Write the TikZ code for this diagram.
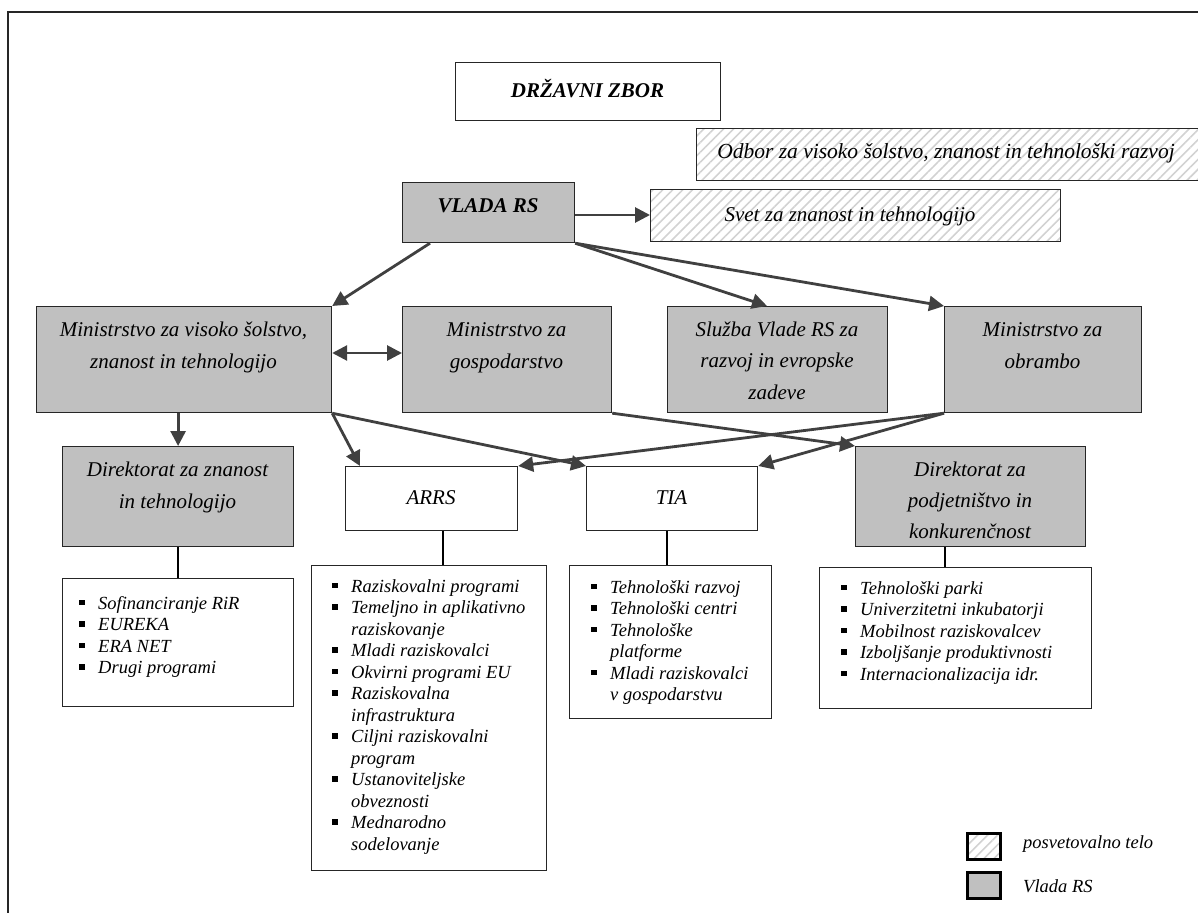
\documentclass[tikz,border=0pt]{standalone}
\usepackage{fontspec}
\setmainfont{Liberation Serif}
\usetikzlibrary{arrows.meta,patterns.meta,calc}
\definecolor{boxgray}{HTML}{C0C0C0}
\definecolor{arrowgray}{HTML}{404040}
\definecolor{hatchgray}{HTML}{D2D2D2}
\newcommand\lbul{\makebox[19pt][l]{\rule[4pt]{5.5pt}{5.5pt}}}
\newcommand\lind{\hspace*{19pt}}
\tikzset{
  boxbase/.style={draw=black!85, line width=1.2pt, inner sep=0pt, anchor=north west},
  gbox/.style={boxbase, fill=boxgray},
  wbox/.style={boxbase, fill=white},
  hbox/.style={boxbase, pattern={Lines[angle=45,distance=7pt,line width=1.6pt]}, pattern color=hatchgray},
  btext/.style={inner sep=0pt, anchor=base, font=\fontsize{21}{32}\selectfont\itshape},
  ltext/.style={inner sep=0pt, anchor=base west, font=\fontsize{18.5}{21.5}\selectfont\itshape},
  arr/.style={draw=arrowgray, line width=2.8pt, -{Triangle[length=15pt,width=15pt]}},
  darr/.style={draw=arrowgray, line width=2.8pt, {Triangle[length=15pt,width=15pt]}-{Triangle[length=15pt,width=15pt]}},
  conn/.style={draw=black, line width=1.5pt},
  legbox/.style={draw=black, line width=2.5pt, inner sep=0pt, anchor=north west, minimum width=33pt, minimum height=26pt},
}
\begin{document}
\begin{tikzpicture}[x=1pt,y=-1pt]
\useasboundingbox (0,0) rectangle (1198,912);
\draw[line width=2.6pt, black!85] (8,12) rectangle (1220,930);

% top level
\node[wbox, minimum width=265pt, minimum height=58pt] (dz) at (455,62) {};
\node[btext, font=\fontsize{21}{32}\selectfont\bfseries\itshape] (dzt) at (587.5,98) {DRŽAVNI ZBOR};
\node[hbox, minimum width=530pt, minimum height=52pt] (odb) at (696,128) {};
\node[btext, font=\fontsize{21.5}{32}\selectfont\itshape] (odbt) at (946,159) {Odbor za visoko šolstvo, znanost in tehnološki razvoj};
\node[gbox, minimum width=172pt, minimum height=60pt] (vlada) at (402,182) {};
\node[btext, font=\fontsize{21}{32}\selectfont\bfseries\itshape] (vladat) at (488,212) {VLADA RS};
\node[hbox, minimum width=410pt, minimum height=52pt] (svet) at (650,189) {};
\node[btext] (svett) at (850,221) {Svet za znanost in tehnologijo};

% ministries
\node[gbox, minimum width=295pt, minimum height=106pt] (mvs) at (36,306) {};
\node[btext] (mvst) at (183.5,336) {\parbox[t]{290pt}{\centering Ministrstvo za visoko šolstvo,\\ znanost in tehnologijo}};
\node[gbox, minimum width=209pt, minimum height=106pt] (gosp) at (402,306) {};
\node[btext] (gospt) at (506.5,336) {\parbox[t]{200pt}{\centering Ministrstvo za\\ gospodarstvo}};
\node[gbox, minimum width=220pt, minimum height=106pt] (sl) at (667,306) {};
\node[btext, font=\fontsize{21}{31.5}\selectfont\itshape] (slt) at (777,336) {\parbox[t]{215pt}{\centering Služba Vlade RS za\\ razvoj in evropske\\ zadeve}};
\node[gbox, minimum width=197pt, minimum height=106pt] (obr) at (944,306) {};
\node[btext] (obrt) at (1042.5,336) {\parbox[t]{190pt}{\centering Ministrstvo za\\ obrambo}};

% agencies
\node[gbox, minimum width=231pt, minimum height=100pt] (dzn) at (62,446) {};
\node[btext] (dznt) at (177.5,476) {\parbox[t]{225pt}{\centering Direktorat za znanost\\ in tehnologijo}};
\node[wbox, minimum width=172pt, minimum height=64pt] (arrs) at (345,466) {};
\node[btext] (arrst) at (431,504) {ARRS};
\node[wbox, minimum width=171pt, minimum height=64pt] (tia) at (586,466) {};
\node[btext] (tiat) at (671.5,504) {TIA};
\node[gbox, minimum width=230pt, minimum height=100pt] (dp) at (855,446) {};
\node[btext, font=\fontsize{21}{31}\selectfont\itshape] (dpt) at (970,476) {\parbox[t]{225pt}{\centering Direktorat za\\ podjetništvo in\\ konkurenčnost}};

% lists
\node[wbox, minimum width=231pt, minimum height=128pt] (l1) at (62,578) {};
\node[ltext] (l1t) at (79,609) {\parbox[t]{210pt}{\raggedright
\lbul Sofinanciranje RiR\\
\lbul EUREKA\\
\lbul ERA NET\\
\lbul Drugi programi}};
\node[wbox, minimum width=235pt, minimum height=305pt] (l2) at (311,565) {};
\node[ltext] (l2t) at (332,592) {\parbox[t]{210pt}{\raggedright
\lbul Raziskovalni programi\\
\lbul Temeljno in aplikativno\\
\lind raziskovanje\\
\lbul Mladi raziskovalci\\
\lbul Okvirni programi EU\\
\lbul Raziskovalna\\
\lind infrastruktura\\
\lbul Ciljni raziskovalni\\
\lind program\\
\lbul Ustanoviteljske\\
\lind obveznosti\\
\lbul Mednarodno\\
\lind sodelovanje}};
\node[wbox, minimum width=202pt, minimum height=153pt] (l3) at (569,565) {};
\node[ltext] (l3t) at (591,593) {\parbox[t]{180pt}{\raggedright
\lbul Tehnološki razvoj\\
\lbul Tehnološki centri\\
\lbul Tehnološke\\
\lind platforme\\
\lbul Mladi raziskovalci\\
\lind v gospodarstvu}};
\node[wbox, minimum width=272pt, minimum height=141pt] (l4) at (819,567) {};
\node[ltext] (l4t) at (841,594) {\parbox[t]{245pt}{\raggedright
\lbul Tehnološki parki\\
\lbul Univerzitetni inkubatorji\\
\lbul Mobilnost raziskovalcev\\
\lbul Izboljšanje produktivnosti\\
\lbul Internacionalizacija idr.}};

% connectors to lists
\draw[conn] (dzn.south) -- (dzn.south |- l1.north);
\coordinate (arrsc) at ($(arrs.south west)+(98,0)$);
\draw[conn] (arrsc) -- (arrsc |- l2.north);
\coordinate (tiac) at ($(tia.south west)+(81,0)$);
\draw[conn] (tiac) -- (tiac |- l3.north);
\coordinate (dpc) at ($(dp.south west)+(90,0)$);
\draw[conn] (dpc) -- (dpc |- l4.north);

% arrows
\draw[arr] ($(vlada.north east)+(0,33)$) -- ($(svet.north west)+(0,26)$);
\draw[arr] ($(vlada.south west)+(28,0)$) -- (mvs.north east);
\draw[arr] (vlada.south east) -- ($(sl.north west)+(100,0)$);
\draw[arr] (vlada.south east) -- (obr.north west);
\draw[darr] ($(mvs.north east)+(0,47)$) -- ($(gosp.north west)+(0,47)$);
\draw[arr] (dzn.north |- mvs.south) -- (dzn.north);
\draw[arr] (mvs.south east) -- ($(arrs.north west)+(15,0)$);
\draw[arr] (mvs.south east) -- (tia.north west);
\draw[arr] (gosp.south east) -- (dp.north west);
\draw[arr] (obr.south west) -- (arrs.north east);
\draw[arr] (obr.south west) -- (tia.north east);

% legend
\node[legbox, pattern={Lines[angle=45,distance=7pt,line width=1.6pt]}, pattern color=hatchgray] (lg1) at (966,832) {};
\node[ltext] (lg1t) at (1023,848) {posvetovalno telo};
\node[legbox, fill=boxgray] (lg2) at (966,871) {};
\node[ltext] (lg2t) at (1023,892) {Vlada RS};
\end{tikzpicture}
\end{document}
